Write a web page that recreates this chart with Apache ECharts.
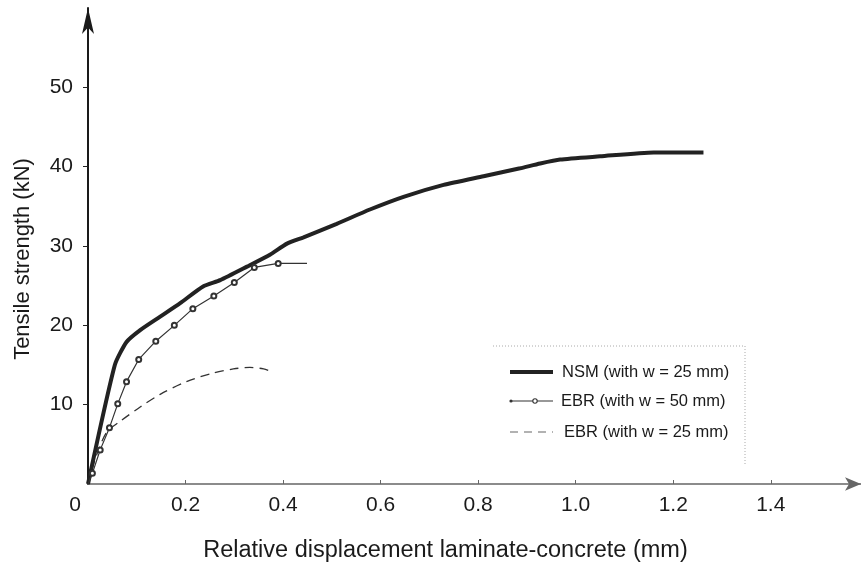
<!DOCTYPE html>
<html>
<head>
<meta charset="utf-8">
<script src="https://cdn.jsdelivr.net/npm/echarts@6/dist/echarts.min.js"></script>
<style>
  html, body { margin: 0; padding: 0; background: #fff; }
  #chart { width: 861px; height: 571px; }
</style>
</head>
<body>
<div id="chart"></div>
<script>
// series names
var seriesNames = ['NSM (with w = 25 mm)', 'EBR (with w = 50 mm)', 'EBR (with w = 25 mm)'];

// NSM, w = 25 mm (displacement mm, force kN)
var nsmX = [0, 0.055, 0.079, 0.107, 0.148, 0.189, 0.236, 0.271, 0.326, 0.373, 0.408, 0.442, 0.510, 0.578, 0.647, 0.729, 0.811, 0.886, 0.927, 0.968, 1.050, 1.160, 1.262];
var nsmY = [0, 15.0, 17.9, 19.4, 21.1, 22.8, 24.9, 25.7, 27.4, 28.9, 30.3, 31.1, 32.8, 34.6, 36.2, 37.7, 38.8, 39.8, 40.4, 40.9, 41.3, 41.8, 41.8];

// EBR, w = 50 mm (last point is the unmarked tail)
var ebr50X = [0, 0.009, 0.025, 0.044, 0.061, 0.079, 0.104, 0.139, 0.177, 0.215, 0.258, 0.300, 0.341, 0.390, 0.449];
var ebr50Y = [0, 1.35, 4.3, 7.1, 10.1, 12.9, 15.7, 18.0, 20.0, 22.1, 23.7, 25.4, 27.3, 27.8, 27.8];

// EBR, w = 25 mm
var ebr25X = [0, 0.014, 0.038, 0.066, 0.107, 0.148, 0.202, 0.257, 0.298, 0.332, 0.360, 0.380];
var ebr25Y = [0, 3.0, 6.5, 7.9, 9.7, 11.3, 12.9, 14.0, 14.5, 14.7, 14.5, 14.1];

var xTicks = { min: 0, max: 1.585, interval: 0.2 };
var yTicks = { min: 0, max: 60, interval: 10 };

function pairs(xs, ys) {
  return xs.map(function (x, i) { return [x, ys[i]]; });
}

var font = "'Liberation Sans', Arial, sans-serif";
var chart = echarts.init(document.getElementById('chart'));

var ebr50Data = pairs(ebr50X, ebr50Y).map(function (p, i) {
  // first and last point carry no circle
  if (i === 0 || i === ebr50X.length - 1) {
    return { value: p, symbol: 'none' };
  }
  return p;
});

// legend drawn by hand: box edges, line samples and labels
var legendRows = [372, 401, 432];
var legendTextX = [562, 561, 564];
var legendGraphic = [
  {
    type: 'polyline',
    shape: { points: [[493, 346], [745, 346], [745, 466]] },
    style: { stroke: '#aaa', lineWidth: 1, lineDash: [1, 2], fill: null },
    silent: true
  },
  {
    type: 'line',
    shape: { x1: 510, y1: legendRows[0], x2: 553, y2: legendRows[0] },
    style: { stroke: '#222', lineWidth: 4 }
  },
  {
    type: 'line',
    shape: { x1: 510, y1: legendRows[1], x2: 553, y2: legendRows[1] },
    style: { stroke: '#333', lineWidth: 1.2 }
  },
  {
    type: 'circle',
    shape: { cx: 511, cy: legendRows[1], r: 1.6 },
    style: { fill: '#333' }
  },
  {
    type: 'circle',
    shape: { cx: 535, cy: legendRows[1], r: 2.2 },
    style: { fill: '#fff', stroke: '#333', lineWidth: 1.1 }
  },
  {
    type: 'line',
    shape: { x1: 510, y1: legendRows[2], x2: 553, y2: legendRows[2] },
    style: { stroke: '#999', lineWidth: 1.3, lineDash: [8, 6] }
  }
];
seriesNames.forEach(function (name, i) {
  legendGraphic.push({
    type: 'text',
    x: legendTextX[i],
    y: legendRows[i],
    style: {
      text: name,
      fontFamily: font,
      fontSize: 16.5,
      fill: '#1a1a1a',
      verticalAlign: 'middle'
    }
  });
});

chart.setOption({
  backgroundColor: '#fff',
  animation: false,
  grid: { left: 88, top: 8, right: 0, bottom: 87, containLabel: false },
  graphic: legendGraphic,
  xAxis: {
    type: 'value',
    min: xTicks.min,
    max: xTicks.max,
    interval: xTicks.interval,
    name: 'Relative displacement laminate-concrete (mm)',
    nameLocation: 'middle',
    nameGap: 55,
    nameTextStyle: { fontFamily: font, fontSize: 23.5, color: '#1a1a1a', padding: [0, 58, 0, 0] },
    axisLine: {
      show: true,
      symbol: ['none', 'arrow'],
      symbolSize: [10, 16],
      lineStyle: { color: '#666', width: 1.5 }
    },
    axisTick: { show: true, inside: true, length: 4, lineStyle: { color: '#666' } },
    axisLabel: {
      fontFamily: font,
      fontSize: 21,
      color: '#1a1a1a',
      margin: 11,
      showMaxLabel: false,
      formatter: function (v) {
        return v === 0 ? '{z|0}' : v.toFixed(1);
      },
      rich: { z: { fontFamily: font, fontSize: 21, color: '#1a1a1a', padding: [0, 26, 0, 0] } }
    },
    splitLine: { show: false }
  },
  yAxis: {
    type: 'value',
    min: yTicks.min,
    max: yTicks.max,
    interval: yTicks.interval,
    name: 'Tensile strength (kN)',
    nameLocation: 'middle',
    nameGap: 54,
    nameTextStyle: { fontFamily: font, fontSize: 22, color: '#1a1a1a', padding: [0, 26, 0, 0] },
    axisLine: {
      show: true,
      symbol: ['none', 'arrow'],
      symbolSize: [9, 26],
      lineStyle: { color: '#1a1a1a', width: 2 }
    },
    axisTick: { show: true, inside: false, length: 5, lineStyle: { color: '#222' } },
    axisLabel: {
      fontFamily: font,
      fontSize: 21,
      color: '#1a1a1a',
      margin: 15,
      showMinLabel: false,
      showMaxLabel: false
    },
    splitLine: { show: false }
  },
  series: [
    {
      name: seriesNames[0],
      type: 'line',
      symbol: 'none',
      smooth: 0.2,
      data: pairs(nsmX, nsmY),
      lineStyle: { color: '#222', width: 4 },
      itemStyle: { color: '#222' },
      z: 3
    },
    {
      name: seriesNames[1],
      type: 'line',
      symbol: 'emptyCircle',
      symbolSize: 5,
      data: ebr50Data,
      lineStyle: { color: '#333', width: 1.2 },
      itemStyle: { color: '#333', borderWidth: 1.2 },
      z: 4
    },
    {
      name: seriesNames[2],
      type: 'line',
      symbol: 'none',
      smooth: 0.3,
      data: pairs(ebr25X, ebr25Y),
      lineStyle: { color: '#333', width: 1.3, type: [9, 6] },
      itemStyle: { color: '#333' },
      z: 2
    }
  ]
});
</script>
</body>
</html>
